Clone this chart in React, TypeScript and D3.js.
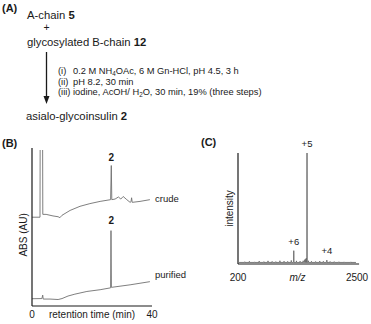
import * as d3 from 'd3';

// ---- panel B: HPLC traces (retention time in min, absorbance in arbitrary units incl. offset)
const crudeTime = [0, 2.67, 2.75, 3.5, 3.6, 4.7, 7, 8.7, 9.3, 10, 12.7, 16, 19.3, 22.7, 26.2, 26.43, 26.6, 27.7, 28.8, 29.6, 30.4, 31.6, 32.7, 33, 33.2, 33.4, 36, 39.3];
const crudeAbs = [56.2, 56.2, 130, 130, 58, 58, 57, 56.5, 55.9, 57.4, 60.5, 63.1, 64.8, 66.2, 67.3, 88.9, 67.3, 67.7, 69, 67.7, 69.3, 67.3, 65.6, 66, 68.5, 65.6, 66.2, 67.3];

const purifiedTime = [0, 3.3, 3.57, 3.73, 6, 8.7, 10, 12, 14.3, 18.3, 22.7, 26.2, 26.33, 26.47, 32.7, 39.3];
const purifiedAbs = [4.6, 4.7, 6.9, 4.4, 4.4, 4.1, 4.7, 6.3, 7.5, 9.2, 10.3, 11.5, 47.7, 11.8, 13.4, 15.4];

const timeTicks = [0, 40];

// ---- panel C: mass spectrum
const peakMz = [1278, 1534, 1917];
const peakInt = [12, 100, 3.5];
const peakLabels = ['+6', '+5', '+4'];
const noiseMz = [330, 420, 520, 610, 700, 780, 860, 930, 1010, 1090, 1160, 1230, 1330, 1400, 1460, 1490, 1510, 1520, 1560, 1620, 1700, 1780, 1850, 1980, 2060, 2150, 2250, 2380];
const noiseInt = [0.6, 1, 0.5, 1.2, 0.7, 1.4, 0.9, 0.7, 1.5, 1.1, 0.9, 1.8, 1.4, 1.1, 1.5, 2.5, 3, 4, 1.5, 1, 0.8, 1.2, 1, 0.8, 0.7, 0.6, 0.5, 0.5];
const mzTicks = [200, 2500];

const FONT = '"Liberation Sans", Arial, Helvetica, sans-serif';
const TXT = '#1a1a1a';
const TRACE = '#707070';

export default function App() {
  // B scales
  const xB = d3.scaleLinear().domain([0, 40]).range([32, 152]);
  const yB = d3.scaleLinear().domain([0, 100]).range([306, 148]);
  const lineB = d3.line<[number, number]>().x(d => xB(d[0])).y(d => yB(d[1]));
  const crude = crudeTime.map((t, i) => [t, crudeAbs[i]] as [number, number]);
  const purified = purifiedTime.map((t, i) => [t, purifiedAbs[i]] as [number, number]);

  // C scales
  const xC = d3.scaleLinear().domain([200, 2500]).range([238, 357]);
  const yC = d3.scaleLinear().domain([0, 100]).range([264, 153]);
  const base = 1.4;
  const all = [
    ...noiseMz.map((m, i) => ({ m, v: noiseInt[i] + base })),
    ...peakMz.map((m, i) => ({ m, v: peakInt[i] })),
  ].sort((a, b) => a.m - b.m);
  const specPts: [number, number][] = [[220, base]];
  all.forEach(p => {
    specPts.push([p.m - 3, base], [p.m, p.v], [p.m + 3, base]);
  });
  specPts.push([2480, base]);
  const lineC = d3.line<[number, number]>().x(d => xC(d[0])).y(d => yC(d[1]));

  return (
    <svg width={371} height={324} style={{ position: 'absolute', left: 0, top: 0, background: '#fff' }} fontFamily={FONT}>
      <defs>
        <clipPath id="clipB">
          <rect x={32} y={150} width={125} height={160} />
        </clipPath>
      </defs>

      {/* ---- (A) scheme ---- */}
      <text x={2} y={12} fontSize={11} fontWeight="bold" fill={TXT}>(A)</text>
      <text x={27} y={19} fontSize={11.3} fill={TXT}>A-chain <tspan fontWeight="bold">5</tspan></text>
      <text x={46.5} y={31} fontSize={10.5} fill={TXT} textAnchor="middle">+</text>
      <text x={27} y={46} fontSize={11.3} fill={TXT}>glycosylated B-chain <tspan fontWeight="bold">12</tspan></text>
      <line x1={46.5} y1={52} x2={46.5} y2={98} stroke={TXT} strokeWidth={1.3} />
      <path d="M43.5,96 L49.5,96 L46.5,104 Z" fill={TXT} />
      <g fontSize={9.3} fill={TXT}>
        <text x={58} y={74}>(i)<tspan x={73}>0.2 M NH</tspan><tspan fontSize={6.3} dy={1.5}>4</tspan><tspan dy={-1.5}>OAc, 6 M Gn-HCl, pH 4.5, 3 h</tspan></text>
        <text x={58} y={84.5}>(ii)<tspan x={73}>pH 8.2, 30 min</tspan></text>
        <text x={58} y={95}>(iii) iodine, AcOH/ H<tspan fontSize={6.3} dy={1.5}>2</tspan><tspan dy={-1.5}>O, 30 min, 19% (three steps)</tspan></text>
      </g>
      <text x={26} y={120} fontSize={11.3} fill={TXT}>asialo-glycoinsulin <tspan fontWeight="bold">2</tspan></text>

      {/* ---- (B) HPLC ---- */}
      <text x={2} y={147} fontSize={11} fontWeight="bold" fill={TXT}>(B)</text>
      <g clipPath="url(#clipB)" fill="none" stroke={TRACE} strokeWidth={0.9}>
        <path d={lineB(crude) ?? ''} />
        <path d={lineB(purified) ?? ''} />
      </g>
      <line x1={xB(0)} y1={yB(100)} x2={xB(0)} y2={yB(0)} stroke={TXT} strokeWidth={1.2} />
      <line x1={xB(0)} y1={yB(0)} x2={xB(40)} y2={yB(0)} stroke={TXT} strokeWidth={1.2} />
      {timeTicks.map(t => (
        <text key={t} x={xB(t)} y={318} fontSize={10} textAnchor="middle" fill={TXT}>{t}</text>
      ))}
      <text x={xB(20)} y={318} fontSize={10} textAnchor="middle" fill={TXT}>retention time (min)</text>
      <text transform={`translate(27,${yB(45)}) rotate(-90)`} fontSize={10} textAnchor="middle" fill={TXT}>ABS (AU)</text>
      <text x={xB(26.4)} y={yB(91.5)} fontSize={10} fontWeight="bold" textAnchor="middle" fill={TXT}>2</text>
      <text x={xB(26.4)} y={yB(52)} fontSize={10} fontWeight="bold" textAnchor="middle" fill={TXT}>2</text>
      <text x={155} y={yB(66)} fontSize={9.5} fill={TXT}>crude</text>
      <text x={155} y={yB(18)} fontSize={9.5} fill={TXT}>purified</text>

      {/* ---- (C) MS ---- */}
      <text x={201} y={146} fontSize={11} fontWeight="bold" fill={TXT}>(C)</text>
      <path d={lineC(specPts) ?? ''} fill="none" stroke="#6a6a6a" strokeWidth={0.9} />
      <line x1={xC(200)} y1={yC(0)} x2={xC(200)} y2={yC(100)} stroke={TXT} strokeWidth={1.2} />
      <line x1={xC(200)} y1={yC(0)} x2={xC(2540)} y2={yC(0)} stroke={TXT} strokeWidth={1.2} />
      {peakMz.map((m, i) => (
        <text key={m} x={xC(m)} y={yC(peakInt[i]) - 6} fontSize={9.5} textAnchor="middle" fill={TXT}>{peakLabels[i]}</text>
      ))}
      {mzTicks.map(t => (
        <text key={t} x={xC(t)} y={281} fontSize={10} textAnchor="middle" fill={TXT}>{t}</text>
      ))}
      <text x={xC(1350)} y={281} fontSize={10} fontStyle="italic" textAnchor="middle" fill={TXT}>m/z</text>
      <text transform={`translate(233,${yC(50)}) rotate(-90)`} fontSize={10} textAnchor="middle" fill={TXT}>intensity</text>
    </svg>
  );
}
